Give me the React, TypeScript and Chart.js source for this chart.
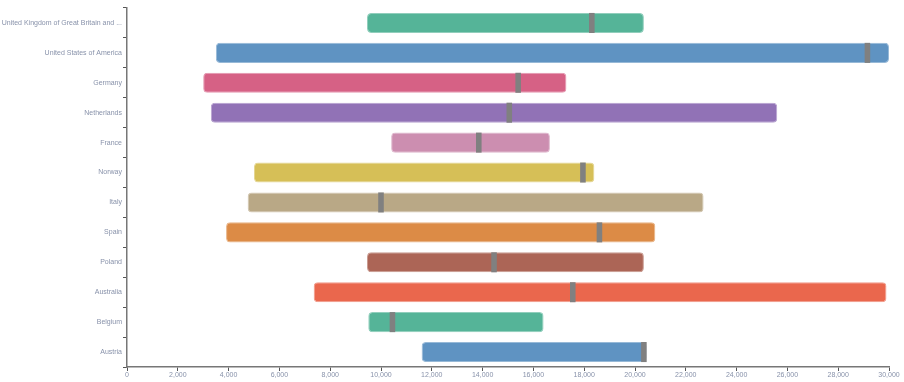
import React, { useEffect, useRef } from "react";
import { Chart, registerables } from "chart.js";

Chart.register(...registerables);

const categories = [
  "United Kingdom of Great Britain and Northern Ireland",
  "United States of America",
  "Germany",
  "Netherlands",
  "France",
  "Norway",
  "Italy",
  "Spain",
  "Poland",
  "Australia",
  "Belgium",
  "Austria",
];
const rangeStart = [9450, 3500, 3000, 3300, 10400, 5000, 4750, 3900, 9450, 7350, 9500, 11600];
const rangeEnd = [20350, 30000, 17300, 25600, 16650, 18400, 22700, 20800, 20350, 29900, 16400, 20450];
const markerValue = [18300, 29150, 15400, 15050, 13850, 17950, 10000, 18600, 14450, 17550, 10450, 20350];
const barColors = [
  "#55b498",
  "#5f93c2",
  "#d66185",
  "#9172b6",
  "#cc8eb0",
  "#d6bf57",
  "#b9a886",
  "#dc8b46",
  "#ac6556",
  "#ea674d",
  "#55b498",
  "#5f93c2",
];
const xTicks = [0, 2000, 4000, 6000, 8000, 10000, 12000, 14000, 16000, 18000, 20000, 22000, 24000, 26000, 28000, 30000];
const markerHalfWidth = 110;

function lighten(hex: string, amt: number) {
  const n = parseInt(hex.slice(1), 16);
  const r = (n >> 16) & 255, g = (n >> 8) & 255, b = n & 255;
  const f = (c: number) => Math.round(c + (255 - c) * amt);
  return `rgb(${f(r)},${f(g)},${f(b)})`;
}

export default function App() {
  const ref = useRef<HTMLCanvasElement | null>(null);
  useEffect(() => {
    document.body.style.margin = "0";
    const ctx = ref.current!;
    const labelColor = "#8892aa";
    const font = { family: "'Liberation Sans', Arial, sans-serif", size: 7 };
    const chart = new Chart(ctx, {
      type: "bar",
      data: {
        labels: categories,
        datasets: [
          {
            label: "marker",
            data: markerValue.map((m) => [m - markerHalfWidth, m + markerHalfWidth]),
            backgroundColor: "#808080",
            borderWidth: 0,
            grouped: false,
            order: 0,
            categoryPercentage: 1,
            barPercentage: 0.67,
          } as any,
          {
            label: "range",
            data: rangeStart.map((s, i) => [s, rangeEnd[i]]),
            backgroundColor: barColors,
            borderColor: barColors.map((c) => lighten(c, 0.35)),
            borderWidth: 1,
            borderRadius: 4,
            borderSkipped: false,
            grouped: false,
            order: 1,
            categoryPercentage: 1,
            barPercentage: 0.67,
          } as any,
        ],
      },
      options: {
        indexAxis: "y",
        animation: false,
        responsive: false,
        maintainAspectRatio: false,
        layout: { padding: { top: 8, right: 15, left: 0, bottom: 0 } },
        plugins: { legend: { display: false }, tooltip: { enabled: false } },
        scales: {
          x: {
            type: "linear",
            min: 0,
            max: 30000,
            afterBuildTicks: (axis: any) => {
              axis.ticks = xTicks.map((v) => ({ value: v }));
            },
            afterFit: (axis: any) => {
              axis.height = 15;
              axis.paddingRight = 0;
              axis.paddingLeft = 0;
            },
            ticks: {
              color: labelColor,
              font,
              padding: 0,
              maxRotation: 0,
              callback: (v: any) => Number(v).toLocaleString("en-US"),
            },
            grid: { drawOnChartArea: false, drawTicks: true, tickLength: 4, color: "#555" },
            border: { display: true, color: "#777", width: 1.5 },
          },
          y: {
            type: "category",
            offset: true,
            afterFit: (axis: any) => {
              axis.width = 127;
            },
            ticks: {
              color: labelColor,
              font,
              padding: 1,
              callback: function (this: any, v: any) {
                const s = categories[v] as string;
                return s.length > 38 ? s.slice(0, 35) + " ..." : s;
              },
            },
            grid: { drawOnChartArea: false, drawTicks: true, tickLength: 4, color: "#555", offset: true },
            border: { display: true, color: "#777", width: 1.5 },
          },
        },
      } as any,
    });
    return () => chart.destroy();
  }, []);
  return <canvas ref={ref} width={904} height={382} style={{ display: "block", width: 904, height: 382 }} />;
}
